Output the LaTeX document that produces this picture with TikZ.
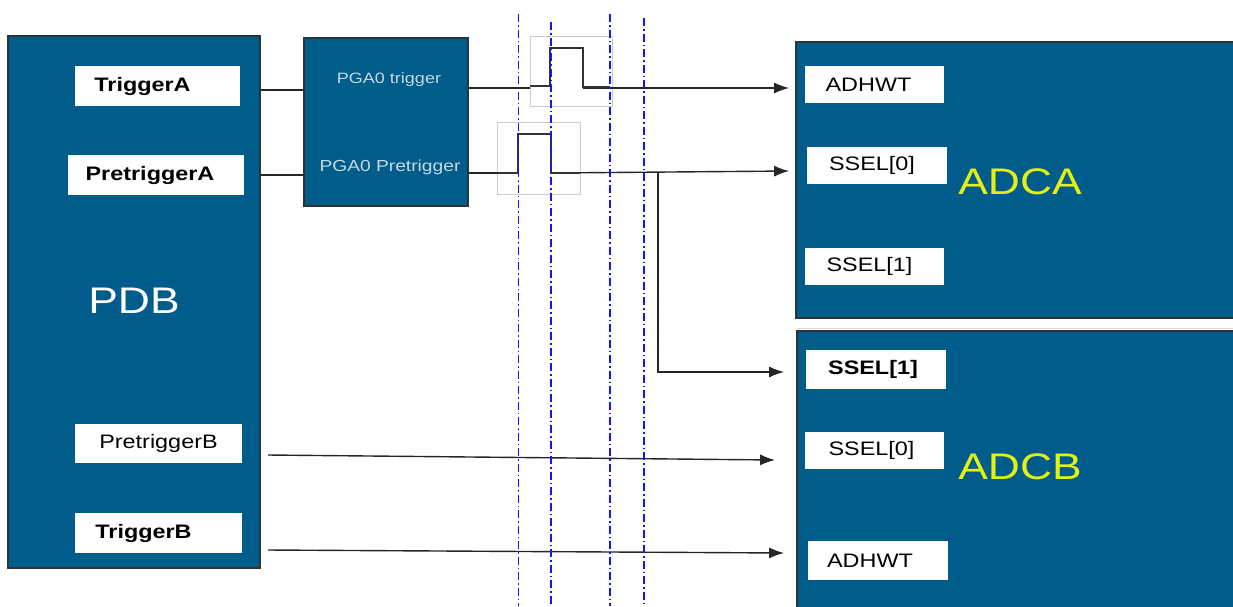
\documentclass[tikz,border=0pt]{standalone}
\usepackage{fontspec}
\setmainfont{Liberation Sans}[FakeStretch=1.2]
\usetikzlibrary{arrows.meta}
\definecolor{blkblue}{RGB}{0,92,138}
\definecolor{blkedge}{RGB}{45,50,55}
\definecolor{adcyellow}{RGB}{228,240,20}
\definecolor{pgatext}{RGB}{200,215,225}
\definecolor{vblue}{RGB}{20,20,245}
\tikzset{
  blk/.style={draw=blkedge, line width=1.8pt, fill=blkblue, rectangle, inner sep=0pt},
  lbl/.style={fill=white, rectangle, inner sep=0pt, text=black, font=\fontsize{19.5}{22}\selectfont},
  lblb/.style={lbl, font=\fontsize{19.5}{22}\selectfont\bfseries},
  bigtxt/.style={font=\fontsize{37}{40}\selectfont, inner sep=0pt},
  pgatxt/.style={text=pgatext, inner sep=0pt},
  conn/.style={draw=black!85, line width=1.4pt},
  arr/.style={conn, -{Latex[length=15pt,width=11pt]}},
  pulse/.style={draw=black!80, line width=2.4pt},
  pframe/.style={draw=black!20, line width=0.9pt},
  vline/.style={draw=vblue, dash pattern=on 8pt off 3pt on 1.5pt off 3pt},
}
\newcommand{\lsh}[1]{\hspace*{#1}}
\begin{document}
\begin{tikzpicture}[x=1pt,y=-1pt]
\useasboundingbox (0,0) rectangle (1233,606);
% PDB block
\node[blk, minimum width=252pt, minimum height=532pt] (PDB) at (134,302) {};
\node[lblb, minimum width=165pt, minimum height=40pt] (trigA) at (157.5,86) {\lsh{-30pt}TriggerA};
\node[lblb, minimum width=176pt, minimum height=40pt] (pretrigA) at (156,175) {\lsh{-12pt}PretriggerA};
\node[lbl, minimum width=167pt, minimum height=39pt] (pretrigB) at (158.5,443.5) {PretriggerB};
\node[lblb, minimum width=167pt, minimum height=40pt] (trigB) at (158.5,533) {\lsh{-30pt}TriggerB};
\node[bigtxt, text=white] (pdbtxt) at (134,301) {PDB};
% PGA block
\node[blk, minimum width=164pt, minimum height=168pt] (PGA) at (386,122) {};
\node[pgatxt, font=\fontsize{15}{17}\selectfont] (pgatrig) at (389,80) {PGA0 trigger};
\node[pgatxt, font=\fontsize{16}{18}\selectfont] (pgapre) at (390,167) {PGA0 Pretrigger};
% ADCA block
\draw[draw=black!15, line width=1pt] (797,328) -- (1233,328);
\node[blk, minimum width=444pt, minimum height=276pt] (ADCA) at (1018,180) {};
\node[lbl, minimum width=139pt, minimum height=37pt] (adhwtA) at (874.5,84.5) {\lsh{-12pt}ADHWT};
\node[lbl, minimum width=140pt, minimum height=37pt] (ssel0A) at (877,165.5) {\lsh{-10pt}SSEL[0]};
\node[lbl, minimum width=139pt, minimum height=37pt] (ssel1A) at (874.5,266.5) {\lsh{-10pt}SSEL[1]};
\node[bigtxt, text=adcyellow] (adcatxt) at (1020,182) {ADCA};
% ADCB block
\node[blk, minimum width=444pt, minimum height=290pt] (ADCB) at (1019,476) {};
\node[lblb, minimum width=140pt, minimum height=39pt] (ssel1B) at (876,369.5) {\lsh{-6pt}SSEL[1]};
\node[lbl, minimum width=139pt, minimum height=37pt] (ssel0B) at (874.5,450.5) {\lsh{-6pt}SSEL[0]};
\node[lbl, minimum width=140pt, minimum height=39pt] (adhwtB) at (878,560.5) {\lsh{-16pt}ADHWT};
\node[bigtxt, text=adcyellow] (adcbtxt) at (1020,467) {ADCB};
% pulse frames
\draw[pframe] (530,36) rectangle (612,106);
\draw[pframe] (497,122) rectangle (580,194);
% connectors PDB -> PGA
\draw[conn] (PDB.east |- 0,90) -- (PGA.west |- 0,90);
\draw[conn] (PDB.east |- 0,175) -- (PGA.west |- 0,175);
% PGA outputs to ADCA
\draw[conn] (PGA.east |- 0,88) -- (530,88);
\draw[arr] (583,88) -- ([xshift=-6pt]ADCA.west |- 0,88);
\draw[pulse] (530,86) -- (550,86) -- (550,48) -- (583,48) -- (583,87) -- (610,87);
\draw[conn] (PGA.east |- 0,173) -- (497,173);
\coordinate (branch) at (658,172);
\draw[arr] (551,173) -- ([xshift=-6pt]ADCA.west |- 0,171);
\draw[pulse] (497,173) -- (518,173) -- (518,134) -- (551,134) -- (551,173) -- (580,173);
\draw[arr] (branch) -- (branch |- 0,372) -- ([xshift=-12pt]ADCB.west |- 0,372);
% PDB B outputs to ADCB
\draw[arr] (268,455) -- ([xshift=-21pt]ADCB.west |- 0,460);
\draw[arr] (268,550) -- ([xshift=-12pt]ADCB.west |- 0,553);
% vertical timing lines
\draw[vline, line width=1pt] (518,14) -- (518,606);
\draw[vline, line width=2pt] (551,22) -- (551,606);
\draw[vline, line width=1.5pt] (610,14) -- (610,606);
\draw[vline, line width=2pt] (644,18) -- (644,606);
\end{tikzpicture}
\end{document}
